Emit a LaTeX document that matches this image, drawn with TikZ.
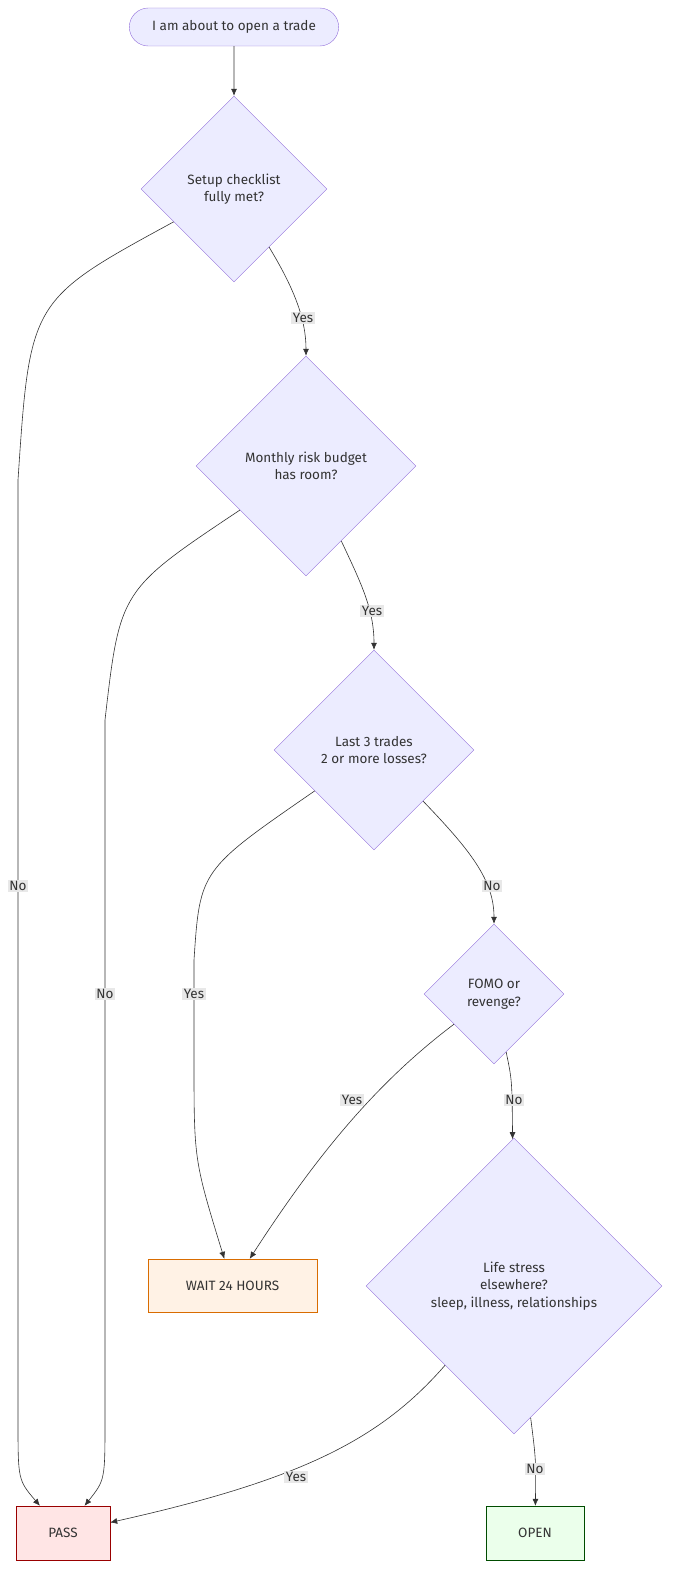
\documentclass[tikz,border=0pt]{standalone}
\usepackage{fontspec}
\setmainfont{Fira Sans}
\usetikzlibrary{shapes.geometric,shapes.misc,arrows.meta}
\definecolor{nfill}{HTML}{ECECFF}
\definecolor{nline}{HTML}{9370DB}
\definecolor{lbl}{HTML}{E8E8E8}
\definecolor{ecol}{HTML}{333333}
\begin{document}
\begin{tikzpicture}[x=1pt,y=-1pt,font=\fontsize{13.5}{17.5}\selectfont,
  dia/.style={diamond,draw=nline,fill=nfill,inner sep=0pt,align=center,text=ecol},
  box/.style={rectangle,draw,inner sep=0pt,text=ecol},
  e/.style={draw=ecol,line width=0.6pt,-{Latex[length=7pt,width=6pt]}},
  lb/.style={fill=lbl,inner sep=1.5pt,text=ecol,font=\fontsize{13.5}{15}\selectfont}]
\useasboundingbox (0,0) rectangle (678,1584);
\node[rounded rectangle,draw=nline,fill=nfill,minimum width=216pt,minimum height=38pt,text=ecol] (s) at (234,27) {I am about to open a trade};
\node[dia,minimum width=186pt,minimum height=186pt] (d1) at (234,189) {Setup checklist\\fully met?};
\node[dia,minimum width=220pt,minimum height=220pt] (d2) at (306,466) {Monthly risk budget\\has room?};
\node[dia,minimum width=200pt,minimum height=200pt] (d3) at (374,750) {Last 3 trades\\2 or more losses?};
\node[dia,minimum width=140pt,minimum height=140pt] (d4) at (494,994) {FOMO or\\revenge?};
\node[dia,minimum width=296pt,minimum height=296pt] (d5) at (514,1286) {Life stress\\elsewhere?\\sleep, illness, relationships};
\node[box,draw=orange!85!black,fill=orange!10,minimum width=169pt,minimum height=53pt] (w) at (232.5,1285.5) {WAIT 24 HOURS};
\node[box,draw=red!60!black,fill=red!10,minimum width=94pt,minimum height=54pt] (p) at (63,1533) {PASS};
\node[box,draw=green!30!black,fill=green!8,minimum width=98pt,minimum height=54pt] (o) at (535,1533) {OPEN};

\draw[e] (s) -- (d1);
\draw[e] (d1) .. controls (295,290) and (306,320) .. (d2);
\node[lb] at (303,318) {Yes};
\draw[e] (d1) .. controls (30,300) .. (18,480) -- (18,1420) .. controls (18,1480) .. (p);
\node[lb] at (18,886) {No};
\draw[e] (d2) .. controls (362,585) and (374,610) .. (d3);
\node[lb] at (372,611) {Yes};
\draw[e] (d2) .. controls (120,590) .. (105,720) -- (105,1420) .. controls (105,1480) .. (p);
\node[lb] at (105,994) {No};
\draw[e] (d3) .. controls (200,870) .. (194,960) -- (194,1060) .. controls (194,1160) .. (w);
\node[lb] at (194,994) {Yes};
\draw[e] (d3) .. controls (470,850) and (494,880) .. (d4);
\node[lb] at (492,886) {No};
\draw[e] (d4) .. controls (380,1080) and (320,1150) .. (w);
\node[lb] at (352,1100) {Yes};
\draw[e] (d4) .. controls (512,1080) .. (d5);
\node[lb] at (514,1100) {No};
\draw[e] (d5) .. controls (380,1440) and (300,1480) .. (p);
\node[lb] at (296,1477) {Yes};
\draw[e] (d5) .. controls (536,1460) .. (o);
\node[lb] at (535,1469) {No};
\end{tikzpicture}
\end{document}
